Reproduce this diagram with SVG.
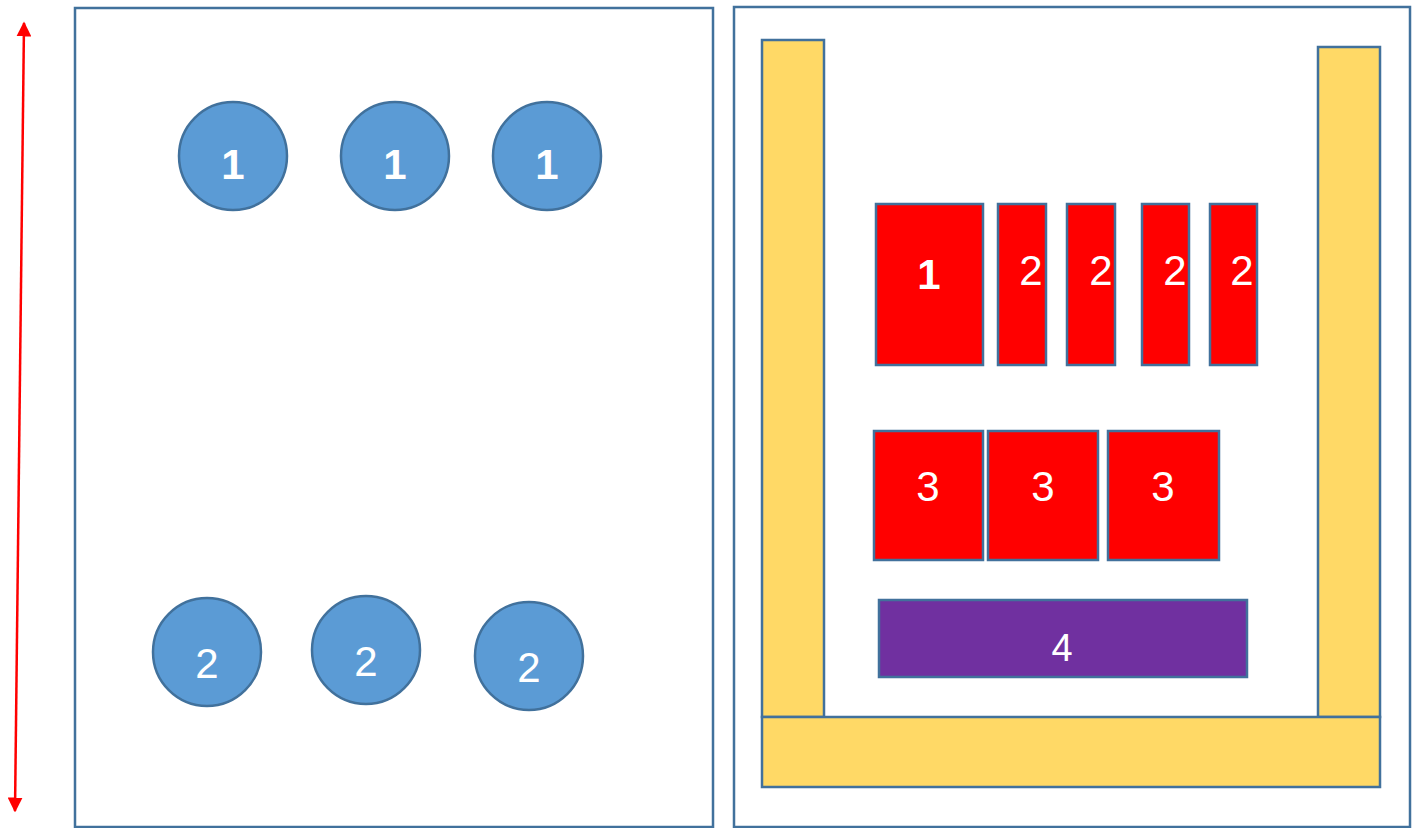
<svg xmlns="http://www.w3.org/2000/svg" width="1419" height="828" viewBox="0 0 1419 828">
<style>
.panel{fill:#fff;stroke:#41719C;stroke-width:2.5}
.c{fill:#5B9BD5;stroke:#41719C;stroke-width:2.5}
.y{fill:#FFD966;stroke:#41719C;stroke-width:2.5}
.r{fill:#FF0000;stroke:#41719C;stroke-width:2.5}
.p{fill:#7030A0;stroke:#41719C;stroke-width:2.5}
text{font-family:"Liberation Sans",Arial,sans-serif;fill:#fff;text-anchor:middle;font-size:42px}
.b{font-weight:bold}
</style>
<defs>
<marker id="ah" viewBox="0 0 10 10" refX="9" refY="5" markerWidth="6" markerHeight="6" orient="auto-start-reverse" markerUnits="strokeWidth">
<path d="M0,0 L10,5 L0,10 Z" fill="#FF0000"/>
</marker>
</defs>
<g id="left-panel"><rect class="panel" x="75" y="8" width="638" height="819"/></g>
<g id="right-panel"><rect class="panel" x="734" y="7" width="676" height="820"/></g>
<g id="c1a"><circle class="c" cx="233" cy="156" r="54"/><text class="b" x="233" y="179">1</text></g>
<g id="c1b"><circle class="c" cx="395" cy="156" r="54"/><text class="b" x="395" y="179">1</text></g>
<g id="c1c"><circle class="c" cx="547" cy="156" r="54"/><text class="b" x="547" y="179">1</text></g>
<g id="c2a"><circle class="c" cx="207" cy="652" r="54"/><text x="207" y="678">2</text></g>
<g id="c2b"><circle class="c" cx="366" cy="650" r="54"/><text x="366" y="676">2</text></g>
<g id="c2c"><circle class="c" cx="529" cy="656" r="54"/><text x="529" y="682">2</text></g>
<g id="bar-left"><rect class="y" x="762" y="40" width="62" height="677"/></g>
<g id="bar-right"><rect class="y" x="1318" y="47" width="62" height="670"/></g>
<g id="bar-bottom"><rect class="y" x="762" y="717" width="618" height="70"/></g>
<g id="r1"><rect class="r" x="876" y="204" width="107" height="161"/><text class="b" x="929" y="289">1</text></g>
<g id="r2a"><rect class="r" x="998" y="204" width="48" height="161"/><text x="1031" y="285">2</text></g>
<g id="r2b"><rect class="r" x="1067" y="204" width="48" height="161"/><text x="1101" y="285">2</text></g>
<g id="r2c"><rect class="r" x="1142" y="204" width="47" height="161"/><text x="1175" y="285">2</text></g>
<g id="r2d"><rect class="r" x="1210" y="204" width="47" height="161"/><text x="1242" y="285">2</text></g>
<g id="r3a"><rect class="r" x="874" y="431" width="109" height="129"/><text x="928" y="501">3</text></g>
<g id="r3b"><rect class="r" x="988" y="431" width="110" height="129"/><text x="1043" y="501">3</text></g>
<g id="r3c"><rect class="r" x="1108" y="431" width="111" height="129"/><text x="1163" y="501">3</text></g>
<g id="p4"><rect class="p" x="879" y="600" width="368" height="77"/><text x="1062" y="661" style="font-size:38px">4</text></g>
<g id="connectors">
<line x1="24" y1="23" x2="15" y2="811" stroke="#FF0000" stroke-width="2.5" marker-start="url(#ah)" marker-end="url(#ah)"/>
</g>
</svg>
